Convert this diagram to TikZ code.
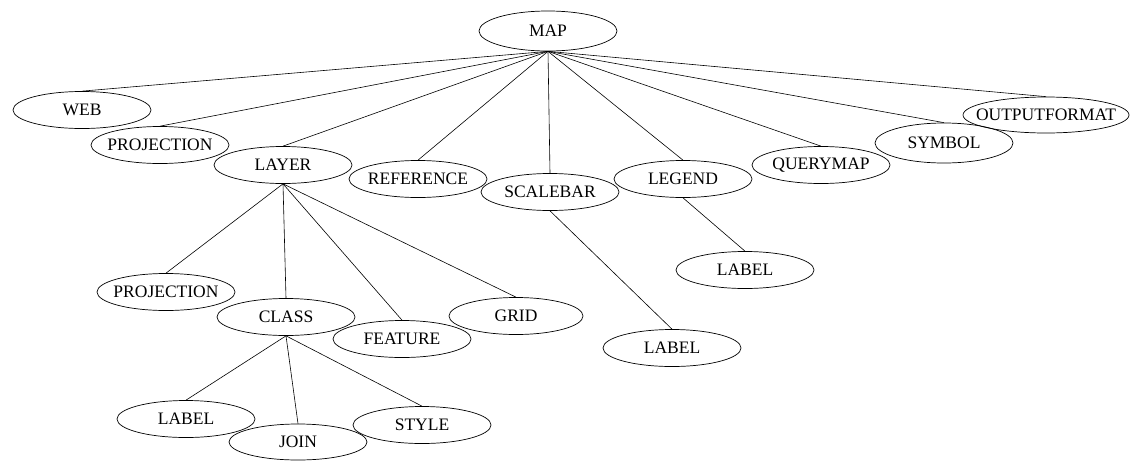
\documentclass[tikz,border=0pt]{standalone}
\usepackage{fontspec}
\setmainfont{Liberation Serif}
\usetikzlibrary{shapes.geometric}
% text is boxed with zero width so the ellipse size comes only from the style
\newcommand{\ovtext}[1]{\makebox[0pt]{#1}}
\begin{document}
\begin{tikzpicture}[x=1pt,y=-1pt,
  oval/.style={ellipse, draw, line width=0.7pt, inner sep=0pt,
    minimum width=138pt, minimum height=37pt,
    font=\fontsize{17.5}{18}\selectfont},
  link/.style={line width=0.6pt}]
\useasboundingbox (0,0) rectangle (1130,461);

% top level
\node[oval, minimum height=40pt] (map) at (548,31) {\ovtext{MAP}};
\node[oval] (web) at (82,110) {\ovtext{WEB}};
\node[oval] (proj1) at (160,145) {\ovtext{PROJECTION}};
\node[oval] (layer) at (283,165) {\ovtext{LAYER}};
\node[oval] (ref) at (418,179) {\ovtext{REFERENCE}};
\node[oval] (scalebar) at (550,192) {\ovtext{SCALEBAR}};
\node[oval] (legend) at (683,179) {\ovtext{LEGEND}};
\node[oval] (querymap) at (821,165) {\ovtext{QUERYMAP}};
\node[oval, minimum height=40pt] (symbol) at (944,143) {\ovtext{SYMBOL}};
\node[oval, minimum width=166pt, minimum height=36pt] (outfmt) at (1046,115) {\ovtext{OUTPUTFORMAT}};

% children of legend and scalebar
\node[oval] (leglabel) at (745,270) {\ovtext{LABEL}};
\node[oval] (sclabel) at (672,348) {\ovtext{LABEL}};

% children of layer
\node[oval] (proj2) at (166,292) {\ovtext{PROJECTION}};
\node[oval] (class) at (286,317) {\ovtext{CLASS}};
\node[oval] (feature) at (402,339) {\ovtext{FEATURE}};
\node[oval, minimum width=134pt] (grid) at (516,316) {\ovtext{GRID}};

% children of class
\node[oval] (clabel) at (186,419) {\ovtext{LABEL}};
\node[oval, minimum height=36pt] (join) at (298,442) {\ovtext{JOIN}};
\node[oval] (style) at (422,425) {\ovtext{STYLE}};

% connectors
\foreach \c in {web,proj1,layer,ref,scalebar,legend,querymap,symbol,outfmt}
  \draw[link] (map.south) -- (\c.north);
\draw[link] (legend.south) -- (leglabel.north);
\draw[link] (scalebar.south) -- (sclabel.north);
\foreach \c in {proj2,class,feature,grid}
  \draw[link] (layer.south) -- (\c.north);
\foreach \c in {clabel,join,style}
  \draw[link] (class.south) -- (\c.north);
\end{tikzpicture}
\end{document}
